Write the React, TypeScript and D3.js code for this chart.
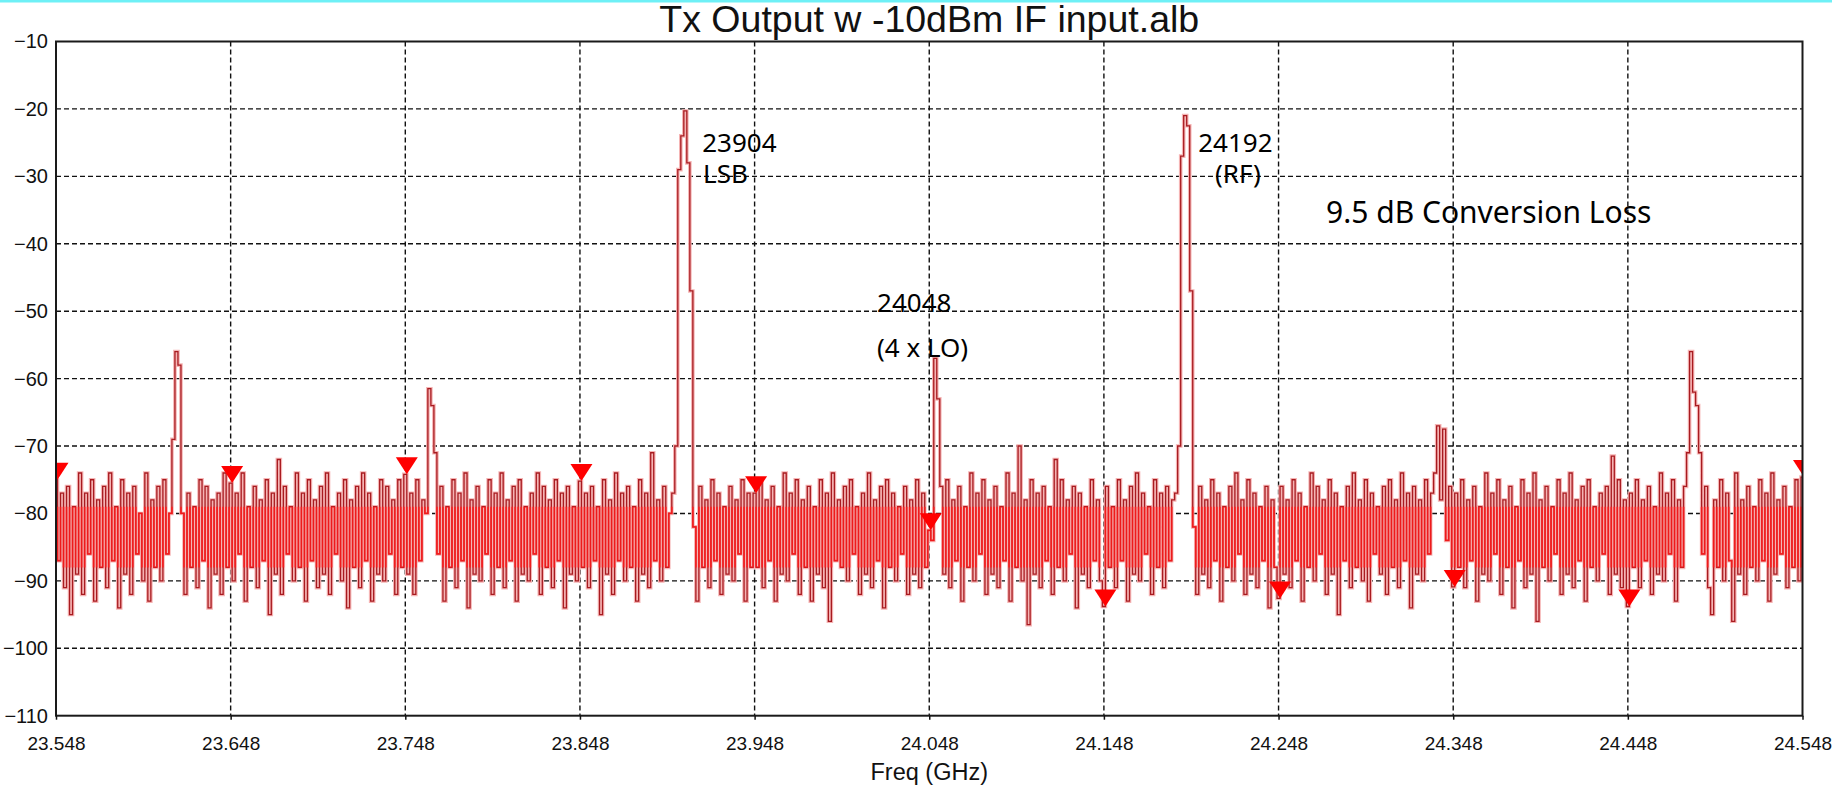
import { useEffect, useRef } from 'react';
import * as d3 from 'd3';

const W = 1832;
const H = 791;

const title = 'Tx Output w -10dBm IF input.alb';
const xLabel = 'Freq (GHz)';

const sweepStartGHz = 23.548;
const sweepStopGHz = 24.548;

const xTicks = [23.548, 23.648, 23.748, 23.848, 23.948, 24.048, 24.148, 24.248, 24.348, 24.448, 24.548];
const yTicks = [-10, -20, -30, -40, -50, -60, -70, -80, -90, -100, -110];

// trace levels (dBm), one row per 0.1 GHz division
const div0 = [
  -75, -87, -77, -91, -76, -95, -79, -89, -74, -92,
  -77, -86, -75, -93, -78, -88, -76, -91, -74, -87,
  -79, -94, -75, -89, -77, -92, -76, -86, -80, -90,
  -74, -93, -78, -88, -76, -90, -75, -86, -80, -69,
  -56, -58, -80, -92, -77, -88, -79, -91, -75, -87,
  -76, -94, -78, -89, -77, -92, -74, -88,
];
const div1 = [
  -75.5, -90, -77, -86, -74, -93, -79, -88, -76, -91,
  -78, -87, -75, -95, -77, -89, -72, -92, -76, -86,
  -79, -90, -74, -88, -77, -93, -75, -87, -78, -91,
  -76, -89, -74, -92, -79, -86, -77, -90, -75, -94,
  -78, -88, -76, -91, -74, -87, -77, -93, -79, -89,
  -75, -90, -76, -86, -78, -92, -75, -88,
];
const div2 = [
  -74.2, -89, -77, -92, -75, -87, -78, -80, -61.5, -64,
  -71, -86, -76, -93, -79, -88, -75, -91, -77, -87,
  -74, -94, -78, -89, -76, -90, -79, -86, -75, -92,
  -77, -88, -74, -91, -78, -87, -76, -93, -75, -89,
  -79, -90, -77, -86, -74, -92, -76, -88, -78, -91,
  -75, -87, -77, -94, -76, -89, -79, -90,
];
const div3 = [
  -75.2, -88, -77, -91, -76, -87, -79, -95, -75, -89,
  -78, -92, -74, -87, -77, -90, -76, -88, -79, -93,
  -75, -89, -77, -91, -71, -87, -78, -90, -76, -88,
  -80, -77, -70, -29, -24, -20.3, -28, -47, -82, -93,
  -76, -88, -78, -91, -75, -87, -77, -92, -79, -89,
  -76, -90, -78, -86, -75, -93, -77, -88,
];
const div4 = [
  -77, -88, -75, -91, -78, -87, -76, -93, -79, -89,
  -74, -90, -77, -86, -75, -92, -78, -88, -76, -93,
  -79, -89, -75, -91, -77, -96, -74, -87, -78, -88,
  -76, -90, -75, -86, -79, -92, -77, -89, -74, -91,
  -78, -87, -76, -94, -75, -88, -77, -90, -79, -86,
  -76, -92, -78, -89, -75, -91, -77, -88,
];
const div5 = [
  -82.5, -84, -57, -63, -76, -89, -75, -91, -78, -87,
  -76, -93, -79, -88, -74, -90, -77, -86, -75, -92,
  -78, -89, -76, -91, -79, -87, -74, -93, -77, -88,
  -70, -90, -78, -96.5, -75, -89, -77, -91, -76, -87,
  -79, -92, -72, -88, -75, -90, -78, -86, -76, -94,
  -77, -89, -79, -91, -75, -87, -78, -90,
];
const div6 = [
  -93.8, -76, -88, -79, -91, -75, -87, -78, -93, -76,
  -89, -74, -90, -77, -86, -79, -92, -75, -88, -77,
  -91, -76, -87, -78, -77, -70, -27, -21, -22.5, -47,
  -82, -92, -76, -89, -78, -91, -75, -87, -77, -93,
  -79, -88, -76, -90, -74, -86, -78, -92, -75, -89,
  -77, -91, -79, -87, -76, -94, -78, -88,
];
const div7 = [
  -92.6, -76, -89, -78, -91, -75, -87, -77, -93, -79,
  -88, -74, -90, -76, -86, -78, -92, -75, -89, -77,
  -95, -79, -87, -76, -91, -74, -88, -78, -90, -75,
  -93, -77, -86, -79, -89, -76, -92, -75, -88, -78,
  -91, -74, -87, -77, -94, -76, -89, -78, -90, -75,
  -86, -77, -74, -67, -78, -67.5, -84, -76,
];
const div8 = [
  -90.9, -77, -88, -75, -91, -78, -87, -76, -93, -79,
  -89, -74, -90, -77, -86, -75, -92, -78, -88, -76,
  -94, -79, -87, -75, -91, -77, -89, -74, -96, -78,
  -88, -76, -90, -79, -86, -75, -92, -77, -89, -74,
  -91, -78, -87, -76, -93, -75, -88, -79, -90, -77,
  -86, -76, -92, -71.5, -89, -75, -91, -78,
];
const div9 = [
  -93.8, -77, -88, -75, -91, -78, -87, -76, -92, -79,
  -89, -74, -90, -77, -86, -75, -93, -78, -88, -76,
  -71, -56, -62, -64, -71, -86, -76, -91, -95, -78,
  -88, -75, -90, -77, -87, -96, -74, -89, -78, -92,
  -76, -88, -79, -90, -75, -87, -77, -93, -74, -89,
  -78, -86, -76, -91, -79, -88, -75, -90,
];
const lastPoint = [-74.6];

// markers, one on each grid frequency
const markerFreqs = [23.548, 23.648, 23.748, 23.848, 23.948, 24.048, 24.148, 24.248, 24.348, 24.448, 24.548];
const markerLevels = [-75, -75.5, -74.2, -75.2, -77, -82.5, -93.8, -92.6, -90.9, -93.8, -74.6];

const notes = [
  { text: '23904', f: 23.918, db: -26.4, size: 26 },
  { text: 'LSB', f: 23.9185, db: -31, size: 26 },
  { text: '24192', f: 24.202, db: -26.4, size: 26 },
  { text: '(RF)', f: 24.2116, db: -31, size: 26 },
  { text: '9.5 dB Conversion Loss', f: 24.2752, db: -36.9, size: 30 },
  { text: '24048', f: 24.0181, db: -50.1, size: 26 },
  { text: '(4 x LO)', f: 24.0181, db: -56.8, size: 26 },
];

const margin = { top: 41.5, right: 29.5, bottom: 75.3, left: 56 };

export default function App() {
  const ref = useRef<SVGSVGElement>(null);

  useEffect(() => {
    const svg = d3.select(ref.current);
    svg.selectAll('*').remove();

    const levels = [...div0, ...div1, ...div2, ...div3, ...div4, ...div5, ...div6, ...div7, ...div8, ...div9, ...lastPoint];
    const step = (sweepStopGHz - sweepStartGHz) / (levels.length - 1);
    const trace = levels.map((v, i) => ({ f: sweepStartGHz + i * step, v }));

    const x = d3.scaleLinear().domain([sweepStartGHz, sweepStopGHz]).range([margin.left, W - margin.right]);
    const y = d3.scaleLinear().domain([-110, -10]).range([H - margin.bottom, margin.top]);

    const plotW = W - margin.left - margin.right;
    const plotH = H - margin.top - margin.bottom;

    svg.append('rect').attr('width', W).attr('height', H).attr('fill', '#fff');
    svg.append('rect').attr('width', W).attr('height', 2.5).attr('fill', '#6ef0f6');

    const defs = svg.append('defs');
    defs.append('clipPath').attr('id', 'plot-clip')
      .append('rect')
      .attr('x', margin.left).attr('y', margin.top)
      .attr('width', plotW).attr('height', plotH);
    // the core of the noise band, where the display overdraws the trace
    defs.append('clipPath').attr('id', 'core-clip')
      .append('rect')
      .attr('x', margin.left).attr('y', y(-79))
      .attr('width', plotW).attr('height', y(-88) - y(-79));

    // dashed grid
    svg.append('g')
      .selectAll('line')
      .data(yTicks.slice(1, -1))
      .join('line')
      .attr('x1', margin.left).attr('x2', W - margin.right)
      .attr('y1', d => y(d)).attr('y2', d => y(d))
      .attr('stroke', '#111').attr('stroke-width', 1.4).attr('stroke-dasharray', '5,3');
    svg.append('g')
      .selectAll('line')
      .data(xTicks.slice(1, -1))
      .join('line')
      .attr('x1', d => x(d)).attr('x2', d => x(d))
      .attr('y1', margin.top).attr('y2', H - margin.bottom)
      .attr('stroke', '#111').attr('stroke-width', 1.4).attr('stroke-dasharray', '5,3');

    // trace, drawn as held steps like the analyzer display
    const line = d3.line<{ f: number; v: number }>()
      .x(d => x(d.f)).y(d => y(d.v))
      .curve(d3.curveStep);
    const traceD = line(trace);
    const g = svg.append('g').attr('clip-path', 'url(#plot-clip)');
    g.append('path')
      .attr('fill', 'none').attr('stroke', '#f5b4b4').attr('stroke-width', 3.6)
      .attr('d', traceD);
    g.append('path')
      .attr('fill', 'none').attr('stroke', '#a81b20').attr('stroke-width', 1.3)
      .attr('d', traceD);
    g.append('g').attr('clip-path', 'url(#core-clip)')
      .append('path')
      .attr('fill', 'none').attr('stroke', '#ff1a1a').attr('stroke-width', 1.8)
      .attr('stroke-opacity', 0.8)
      .attr('d', traceD);

    // markers
    g.append('g')
      .selectAll('path')
      .data(markerFreqs.map((f, i) => ({ f, v: markerLevels[i] })))
      .join('path')
      .attr('transform', d => `translate(${x(d.f) + 1.5},${y(d.v)})`)
      .attr('d', 'M-11,-17L11,-17L0,0Z')
      .attr('fill', '#ff0000');

    // frame
    svg.append('rect')
      .attr('x', margin.left).attr('y', margin.top)
      .attr('width', plotW).attr('height', plotH)
      .attr('fill', 'none').attr('stroke', '#1a1a1a').attr('stroke-width', 2);

    // axes
    svg.append('g')
      .attr('transform', `translate(0,${H - margin.bottom})`)
      .call(d3.axisBottom(x).tickValues(xTicks).tickFormat(d3.format('.3f')).tickSize(4).tickPadding(17))
      .call(a => a.select('.domain').remove())
      .call(a => a.selectAll('text').attr('font-family', 'Liberation Sans, Arial, sans-serif').attr('font-size', 19).attr('fill', '#111'))
      .call(a => a.selectAll('.tick line').attr('stroke', '#111').attr('stroke-width', 1.5));

    svg.append('g')
      .attr('transform', `translate(${margin.left},0)`)
      .call(d3.axisLeft(y).tickValues(yTicks).tickSize(0).tickPadding(8))
      .call(a => a.select('.domain').remove())
      .call(a => a.selectAll('text').attr('font-family', 'Liberation Sans, Arial, sans-serif').attr('font-size', 20).attr('fill', '#111'));

    svg.append('text')
      .attr('x', (margin.left + W - margin.right) / 2).attr('y', 32)
      .attr('text-anchor', 'middle')
      .attr('font-family', 'Liberation Sans, Arial, sans-serif').attr('font-size', 36)
      .attr('textLength', 540).attr('lengthAdjust', 'spacingAndGlyphs')
      .attr('fill', '#111')
      .text(title);

    svg.append('text')
      .attr('x', (margin.left + W - margin.right) / 2).attr('y', 780)
      .attr('text-anchor', 'middle')
      .attr('font-family', 'Liberation Sans, Arial, sans-serif').attr('font-size', 23.5)
      .attr('fill', '#111')
      .text(xLabel);

    // annotations
    svg.append('g')
      .selectAll('text')
      .data(notes)
      .join('text')
      .attr('x', d => x(d.f)).attr('y', d => y(d.db))
      .attr('font-family', 'Noto Sans, sans-serif').attr('font-size', d => d.size)
      .attr('fill', '#000')
      .text(d => d.text);
  }, []);

  return (
    <div style={{ position: 'absolute', left: 0, top: 0 }}>
      <svg ref={ref} width={W} height={H} style={{ display: 'block' }} />
    </div>
  );
}
